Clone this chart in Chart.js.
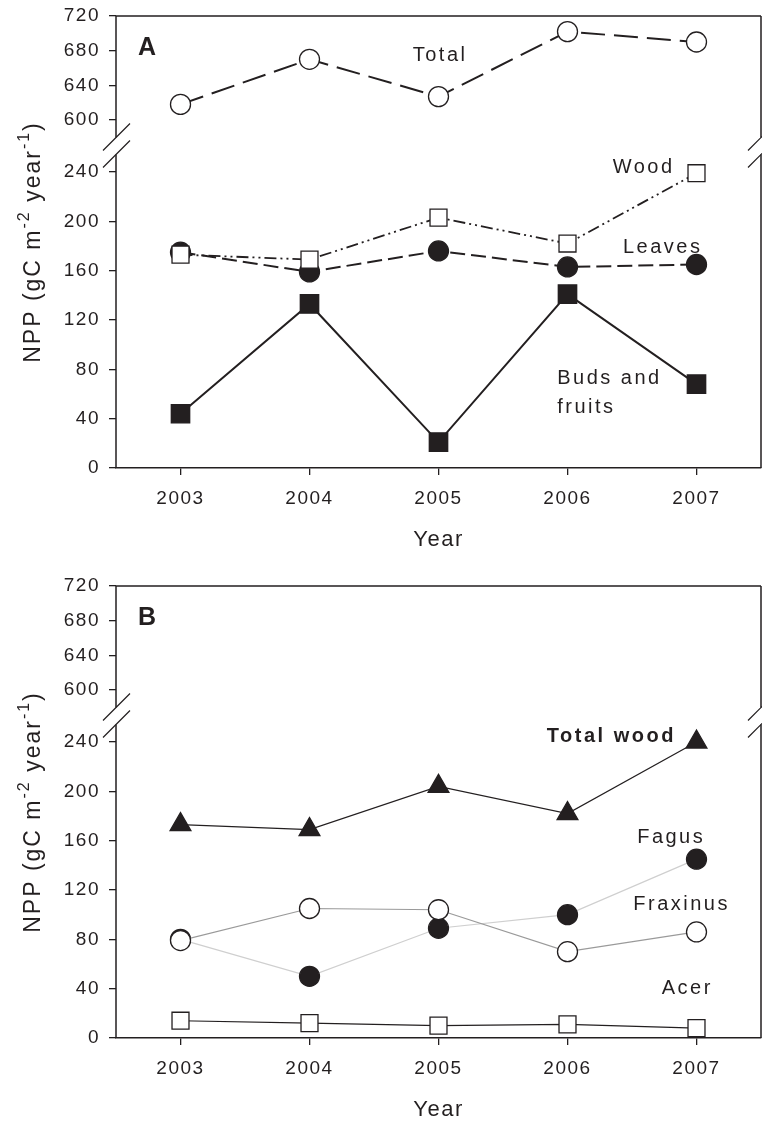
<!DOCTYPE html>
<html>
<head>
<meta charset="utf-8">
<script src="https://cdn.jsdelivr.net/npm/chart.js@4/dist/chart.umd.min.js"></script>
<style>
  html, body { margin: 0; padding: 0; background: #fff; }
  canvas { display: block; }
</style>
</head>
<body>
<canvas id="panelA" width="762" height="570"></canvas>
<canvas id="panelB" width="762" height="552"></canvas>
<script>
// Years and axis ticks
const years = ['2003', '2004', '2005', '2006', '2007'];
const upperTicks = [600, 640, 680, 720];
const lowerTicks = [0, 40, 80, 120, 160, 200, 240];

// Panel A: NPP components (gC m-2 year-1)
const totalNpp = [618, 670, 627, 702, 690];
const woodNpp = [173, 169, 203, 182, 239];
const leavesNpp = [175, 159, 176, 163, 165];
const budsFruitsNpp = [44, 133, 21, 141, 68];

// Panel B: wood NPP by species
const totalWoodNpp = [173, 169, 204, 182, 240];
const fagusNpp = [80, 50, 89, 100, 145];
const fraxinusNpp = [79, 105, 104, 70, 86];
const acerNpp = [14, 12, 10, 11, 8];

const FONT = "'Liberation Sans', Arial, Helvetica, sans-serif";
const INK = '#231f20';

// Wide tracking for all chart text
const tracking = {
  id: 'tracking',
  beforeLayout(chart) { chart.ctx.letterSpacing = '1.5px'; },
  beforeDraw(chart) { chart.ctx.letterSpacing = '1.5px'; }
};

// Box frame with the "//" axis break between the two y segments
const brokenFrame = {
  id: 'brokenFrame',
  afterDraw(chart) {
    const { ctx, chartArea: a, scales } = chart;
    const mid = (scales.yUp.getPixelForValue(upperTicks[0]) + scales.yLow.top) / 2;
    const half = 8.5;
    ctx.save();
    ctx.strokeStyle = INK;
    ctx.lineWidth = 1.5;
    ctx.beginPath();
    ctx.moveTo(a.left, a.top); ctx.lineTo(a.right, a.top);
    [a.left, a.right].forEach(x => {
      ctx.moveTo(x, a.top); ctx.lineTo(x, mid - half);
      ctx.moveTo(x, mid + half); ctx.lineTo(x, a.bottom);
    });
    ctx.stroke();
    ctx.lineWidth = 1.2;
    ctx.beginPath();
    [a.left, a.right].forEach(x => {
      [-half, half].forEach(dy => {
        ctx.moveTo(x - 13, mid + dy + 13);
        ctx.lineTo(x + 14, mid + dy - 14);
      });
    });
    ctx.stroke();
    ctx.restore();
  }
};

// Rotated y-axis title with superscript exponents
const yTitle = {
  id: 'yTitle',
  afterDraw(chart) {
    const { ctx, chartArea: a } = chart;
    const parts = [
      { t: 'NPP (gC m', sup: false },
      { t: '-2', sup: true },
      { t: ' year', sup: false },
      { t: '-1', sup: true },
      { t: ')', sup: false }
    ];
    ctx.save();
    ctx.letterSpacing = '2px';
    ctx.fillStyle = INK;
    let total = 0;
    parts.forEach(p => {
      ctx.font = (p.sup ? '16px ' : '23px ') + FONT;
      p.w = ctx.measureText(p.t).width;
      total += p.w;
    });
    ctx.translate(40, (a.top + a.bottom) / 2);
    ctx.rotate(-Math.PI / 2);
    ctx.textBaseline = 'alphabetic';
    ctx.textAlign = 'left';
    let x = -total / 2;
    parts.forEach(p => {
      ctx.font = (p.sup ? '16px ' : '23px ') + FONT;
      ctx.fillText(p.t, x, p.sup ? -11 : 0);
      x += p.w;
    });
    ctx.restore();
  }
};

// In-plot text labels anchored in data units
function notesPlugin(items) {
  return {
    id: 'notes',
    afterDatasetsDraw(chart) {
      const ctx = chart.ctx;
      const xs = chart.scales.x;
      ctx.save();
      ctx.fillStyle = INK;
      ctx.textBaseline = 'middle';
      ctx.textAlign = 'left';
      items.forEach(n => {
        ctx.font = (n.bold ? 'bold ' : '') + (n.size || 20) + 'px ' + FONT;
        ctx.letterSpacing = (n.spacing != null ? n.spacing : 2.5) + 'px';
        ctx.fillText(n.text, xs.getPixelForValue(n.x), chart.scales[n.axis].getPixelForValue(n.y));
      });
      ctx.restore();
    }
  };
}

function tickStyle() {
  return { color: INK, font: { family: FONT, size: 19 }, padding: 9 };
}
function gridStyle() {
  return { display: true, drawOnChartArea: false, drawTicks: true, tickLength: 7, color: INK, lineWidth: 1.3 };
}
function noPad(s) {
  s.paddingLeft = 0; s.paddingRight = 0; s.paddingTop = 0; s.paddingBottom = 0;
}

function buildScales(axisHeight, titlePadBottom) {
  return {
    x: {
      type: 'category',
      offset: true,
      grid: gridStyle(),
      border: { display: true, color: INK, width: 1.5 },
      ticks: { color: INK, font: { family: FONT, size: 19 }, padding: 12, maxRotation: 0, autoSkip: false },
      title: {
        display: true, text: 'Year', color: INK,
        font: { family: FONT, size: 22, lineHeight: 1 },
        padding: { top: 0, bottom: titlePadBottom }
      },
      afterFit(s) { s.height = axisHeight; noPad(s); }
    },
    yUp: {
      type: 'linear', position: 'left', stack: 'npp', stackWeight: 156, weight: 1,
      min: 540, max: 720,
      grid: gridStyle(),
      border: { display: false },
      ticks: tickStyle(),
      afterBuildTicks(s) { s.ticks = upperTicks.map(v => ({ value: v })); },
      afterFit(s) { s.width = 116; noPad(s); }
    },
    yLow: {
      type: 'linear', position: 'left', stack: 'npp', stackWeight: 296, weight: 0,
      min: 0, max: 240,
      grid: gridStyle(),
      border: { display: false },
      ticks: tickStyle(),
      afterBuildTicks(s) { s.ticks = lowerTicks.map(v => ({ value: v })); },
      afterFit(s) { s.width = 116; noPad(s); }
    }
  };
}

function baseOptions(height) {
  return {
    responsive: false,
    animation: false,
    events: [],
    layout: { autoPadding: false, padding: { top: 16, right: 1, bottom: 0, left: 0 } },
    plugins: { legend: { display: false }, tooltip: { enabled: false } },
    scales: buildScales(height - 468, height - 540 - 11)
  };
}

function series(data, axis, style) {
  return Object.assign({
    data: data,
    yAxisID: axis,
    clip: false,
    tension: 0,
    fill: false,
    borderColor: INK,
    pointBorderColor: INK,
    pointBorderWidth: 1.3
  }, style);
}

// Panel A
new Chart(document.getElementById('panelA'), {
  type: 'line',
  data: {
    labels: years,
    datasets: [
      series(totalNpp, 'yUp', { label: 'Total', borderWidth: 2, borderDash: [24, 9], pointStyle: 'circle', pointRadius: 10, pointBackgroundColor: '#fff' }),
      series(woodNpp, 'yLow', { label: 'Wood', borderWidth: 1.8, borderDash: [12, 4, 2, 4, 2, 4], pointStyle: 'rect', pointRadius: 12, pointBackgroundColor: '#fff' }),
      series(leavesNpp, 'yLow', { label: 'Leaves', borderWidth: 2, borderDash: [15, 6], pointStyle: 'circle', pointRadius: 10, pointBackgroundColor: INK }),
      series(budsFruitsNpp, 'yLow', { label: 'Buds and fruits', borderWidth: 2, pointStyle: 'rect', pointRadius: 13, pointBackgroundColor: INK })
    ]
  },
  options: baseOptions(570),
  plugins: [tracking, brokenFrame, yTitle, notesPlugin([
    { text: 'A', x: -0.33, y: 683, axis: 'yUp', bold: true, size: 25, spacing: 0 },
    { text: 'Total', x: 1.80, y: 675, axis: 'yUp' },
    { text: 'Wood', x: 3.35, y: 244, axis: 'yLow' },
    { text: 'Leaves', x: 3.43, y: 178.6, axis: 'yLow' },
    { text: 'Buds and', x: 2.92, y: 72.7, axis: 'yLow' },
    { text: 'fruits', x: 2.92, y: 49.3, axis: 'yLow' }
  ])]
});

// Panel B
new Chart(document.getElementById('panelB'), {
  type: 'line',
  data: {
    labels: years,
    datasets: [
      series(totalWoodNpp, 'yLow', { label: 'Total wood', borderWidth: 1.2, pointStyle: 'triangle', pointRadius: 12, pointBackgroundColor: INK }),
      series(fraxinusNpp, 'yLow', { label: 'Fraxinus', borderWidth: 1.2, borderColor: '#9a9a9a', pointStyle: 'circle', pointRadius: 10, pointBackgroundColor: '#fff' }),
      series(fagusNpp, 'yLow', { label: 'Fagus', borderWidth: 1.2, borderColor: '#cfcfcf', pointStyle: 'circle', pointRadius: 10, pointBackgroundColor: INK }),
      series(acerNpp, 'yLow', { label: 'Acer', borderWidth: 1.2, pointStyle: 'rect', pointRadius: 12, pointBackgroundColor: '#fff' })
    ]
  },
  options: baseOptions(552),
  plugins: [tracking, brokenFrame, yTitle, notesPlugin([
    { text: 'B', x: -0.33, y: 683, axis: 'yUp', bold: true, size: 25, spacing: 0 },
    { text: 'Total wood', x: 2.84, y: 244.8, axis: 'yLow', bold: true },
    { text: 'Fagus', x: 3.54, y: 162.4, axis: 'yLow' },
    { text: 'Fraxinus', x: 3.51, y: 108.3, axis: 'yLow' },
    { text: 'Acer', x: 3.73, y: 40.4, axis: 'yLow' }
  ])]
});
</script>
</body>
</html>
